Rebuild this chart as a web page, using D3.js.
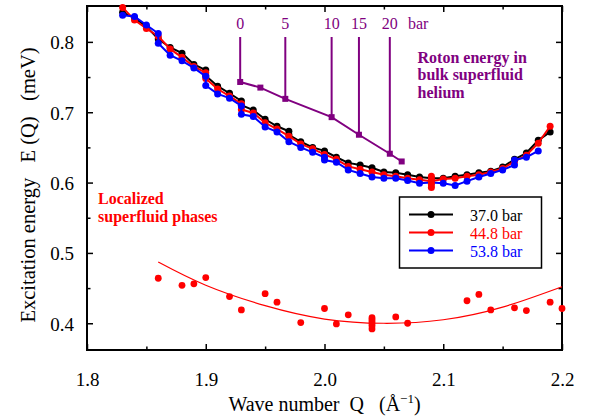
<!DOCTYPE html>
<html>
<head>
<meta charset="utf-8">
<script src="https://cdn.jsdelivr.net/npm/d3@7"></script>
<style>
  html, body { margin: 0; padding: 0; background: #fff; }
</style>
</head>
<body>
<div id="chart"></div>
<script>
// roton dispersion at three pressures: [Q (1/Å), E (meV)]
var black = [[1.83,0.842],[1.84,0.834],[1.85,0.822],[1.86,0.804],[1.87,0.792],[1.88,0.784],[1.89,0.768],
  [1.90,0.760],[1.90,0.752],[1.91,0.737],[1.92,0.727],[1.93,0.716],[1.93,0.710],[1.94,0.703],[1.95,0.690],
  [1.96,0.680],[1.97,0.673],[1.97,0.668],[1.98,0.658],[1.99,0.650],[2.00,0.645],[2.01,0.636],[2.02,0.628],
  [2.03,0.625],[2.04,0.621],[2.05,0.615],[2.06,0.614],[2.07,0.611],[2.08,0.608],[2.09,0.606],[2.10,0.606],
  [2.11,0.609],[2.12,0.611],[2.13,0.614],[2.14,0.616],[2.15,0.622],[2.16,0.633],[2.17,0.642],[2.18,0.660],[2.19,0.672]];
var red = [[1.83,0.849],[1.84,0.831],[1.85,0.819],[1.86,0.808],[1.87,0.790],[1.88,0.778],[1.89,0.765],
  [1.90,0.756],[1.90,0.748],[1.91,0.733],[1.92,0.723],[1.93,0.712],[1.93,0.704],[1.94,0.699],[1.95,0.685],
  [1.96,0.676],[1.97,0.666],[1.98,0.655],[1.99,0.648],[2.00,0.640],[2.01,0.633],[2.02,0.623],[2.03,0.619],
  [2.04,0.615],[2.05,0.611],[2.06,0.609],[2.07,0.606],[2.08,0.604],[2.09,0.602],[2.10,0.605],[2.11,0.606],
  [2.12,0.609],[2.13,0.611],[2.14,0.615],[2.15,0.620],[2.16,0.630],[2.17,0.639],[2.18,0.656],[2.19,0.680]];
var blue = [[1.83,0.838],[1.84,0.836],[1.85,0.824],[1.86,0.812],[1.86,0.798],[1.87,0.781],[1.88,0.773],
  [1.89,0.763],[1.90,0.751],[1.90,0.738],[1.91,0.726],[1.92,0.720],[1.93,0.709],[1.93,0.697],[1.94,0.694],
  [1.95,0.679],[1.96,0.672],[1.97,0.658],[1.98,0.650],[1.99,0.643],[2.00,0.636],[2.00,0.632],[2.01,0.629],
  [2.02,0.618],[2.03,0.613],[2.04,0.608],[2.05,0.606],[2.06,0.606],[2.07,0.603],[2.08,0.599],[2.09,0.600],
  [2.10,0.599],[2.11,0.596],[2.12,0.602],[2.13,0.608],[2.14,0.613],[2.15,0.618],[2.16,0.625],[2.16,0.632],
  [2.17,0.636],[2.18,0.645]];
// stack of red points at the roton minimum
var redStackQ = 2.09;
var redStackE = [0.609, 0.605, 0.601, 0.597, 0.593];

var seriesNames = ["37.0 bar", "44.8 bar", "53.8 bar"];
var seriesColors = ["#000000", "#ff0000", "#0000ff"];

// localized superfluid phases
var locQ = [1.86,1.88,1.89,1.90,1.92,1.93,1.95,1.96,1.98,2.00,2.01,2.02,2.04,2.04,2.04,2.04,2.04,2.04,2.06,2.07,2.12,2.13,2.14,2.16,2.17,2.19,2.20];
var locE = [0.464,0.454,0.456,0.465,0.438,0.419,0.442,0.430,0.401,0.421,0.399,0.412,0.408,0.405,0.402,0.399,0.396,0.392,0.409,0.400,0.432,0.441,0.419,0.422,0.418,0.430,0.421];
var fitQ = [1.86, 1.90, 1.95, 2.00, 2.05, 2.10, 2.15, 2.20];
var fitE = [0.487, 0.454, 0.425, 0.406, 0.400, 0.405, 0.423, 0.452];

// bulk roton energy vs pressure
var rotonQ = [1.929, 1.946, 1.967, 2.006, 2.029, 2.055, 2.065];
var rotonE = [0.743, 0.735, 0.719, 0.693, 0.668, 0.641, 0.630];
var rotonBar = ["0", null, "5", "10", "15", "20", null];

var xTicks = [1.8, 1.9, 2.0, 2.1, 2.2];
var yTicks = [0.4, 0.5, 0.6, 0.7, 0.8];
var xMinor = [1.85, 1.95, 2.05, 2.15];
var yMinor = [0.45, 0.55, 0.65, 0.75];

var width = 592, height = 419;
var mLeft = 87, mRight = 562, mTop = 6, mBottom = 350;
var serif = "'Liberation Serif', 'Times New Roman', serif";

var svg = d3.select("#chart").append("svg")
    .attr("width", width)
    .attr("height", height);

var x = d3.scaleLinear().domain([1.8, 2.2]).range([mLeft, mRight]);
var y = d3.scaleLinear().domain([0.362, 0.851]).range([mBottom, mTop]);

var purple = "#800080";

// axes, ticks pointing inwards
function drawAxis(axis, tx, ty) {
  var g = svg.append("g").attr("transform", "translate(" + tx + "," + ty + ")").call(axis);
  g.select(".domain").remove();
  g.selectAll(".tick line").attr("stroke", "#000").attr("stroke-width", 1.5);
  return g;
}
var gx = drawAxis(d3.axisBottom(x).tickValues(xTicks).tickSize(-6).tickFormat(d3.format(".1f")), 0, mBottom);
gx.selectAll("text").attr("y", 23).attr("font-size", 19).attr("fill", "#000");
drawAxis(d3.axisBottom(x).tickValues(xMinor).tickSize(-3.5).tickFormat(""), 0, mBottom);
drawAxis(d3.axisTop(x).tickValues(xTicks).tickSize(-6).tickFormat(""), 0, mTop);
drawAxis(d3.axisTop(x).tickValues(xMinor).tickSize(-3.5).tickFormat(""), 0, mTop);

var gy = drawAxis(d3.axisLeft(y).tickValues(yTicks).tickSize(-6).tickFormat(d3.format(".1f")), mLeft, 0);
gy.selectAll("text").attr("x", -13).attr("dy", "0.36em").attr("font-size", 19).attr("fill", "#000");
drawAxis(d3.axisLeft(y).tickValues(yMinor).tickSize(-3.5).tickFormat(""), mLeft, 0);
drawAxis(d3.axisRight(y).tickValues(yTicks).tickSize(-6).tickFormat(""), mRight, 0);
drawAxis(d3.axisRight(y).tickValues(yMinor).tickSize(-3.5).tickFormat(""), mRight, 0);

svg.append("rect")
    .attr("x", mLeft).attr("y", mTop)
    .attr("width", mRight - mLeft).attr("height", mBottom - mTop)
    .attr("fill", "none").attr("stroke", "#000").attr("stroke-width", 2);

// axis titles
var xt = svg.append("text")
    .attr("x", (mLeft + mRight) / 2).attr("y", 411)
    .attr("text-anchor", "middle").attr("font-size", 20)
    .style("white-space", "pre");
xt.append("tspan").text("Wave number  Q   (Å");
xt.append("tspan").attr("font-size", 13).attr("dy", -8).text("−1");
xt.append("tspan").attr("dy", 8).text(")");

svg.append("text")
    .attr("transform", "translate(35," + 185 + ") rotate(-90)")
    .attr("text-anchor", "middle").attr("font-size", 20.5)
    .style("white-space", "pre")
    .text("Excitation energy   E (Q)   (meV)");

// localized phases: fit line and points
var line = d3.line().x(function(d) { return x(d[0]); }).y(function(d) { return y(d[1]); });

svg.append("path")
    .datum(fitQ.map(function(q, i) { return [q, fitE[i]]; }))
    .attr("d", line.curve(d3.curveNatural))
    .attr("fill", "none").attr("stroke", "#ff0000").attr("stroke-width", 1.2);
line.curve(d3.curveLinear);

svg.selectAll("circle.loc")
  .data(locQ)
  .enter()
    .append("circle")
    .attr("class", "loc")
    .attr("cx", function(d) { return x(d); })
    .attr("cy", function(d, i) { return y(locE[i]); })
    .attr("r", 3.4)
    .attr("fill", "#ff0000");

// roton energy in bulk
svg.append("path")
    .datum(rotonQ.map(function(q, i) { return [q, rotonE[i]]; }))
    .attr("d", line)
    .attr("fill", "none").attr("stroke", purple).attr("stroke-width", 2);

rotonQ.forEach(function(q, i) {
  if (rotonBar[i] === null) return;
  svg.append("line")
      .attr("x1", x(q)).attr("x2", x(q))
      .attr("y1", 37).attr("y2", y(rotonE[i]))
      .attr("stroke", purple).attr("stroke-width", 2);
  svg.append("text")
      .attr("x", x(q)).attr("y", 28.5)
      .attr("text-anchor", "middle").attr("font-size", 16)
      .attr("fill", purple)
      .text(rotonBar[i]);
});
svg.append("text")
    .attr("x", 408).attr("y", 28.5)
    .attr("font-size", 16).attr("fill", purple)
    .text("bar");

svg.selectAll("rect.roton")
  .data(rotonQ)
  .enter()
    .append("rect")
    .attr("class", "roton")
    .attr("x", function(d) { return x(d) - 3; })
    .attr("y", function(d, i) { return y(rotonE[i]) - 3; })
    .attr("width", 6).attr("height", 6)
    .attr("fill", purple);

["Roton energy in", "bulk superfluid", "helium"].forEach(function(t, i) {
  svg.append("text")
      .attr("x", 417.5).attr("y", 62.5 + i * 17.5)
      .attr("font-size", 16).attr("font-weight", "bold")
      .attr("fill", purple)
      .text(t);
});

["Localized", "superfluid phases"].forEach(function(t, i) {
  svg.append("text")
      .attr("x", 98).attr("y", 204 + i * 17.5)
      .attr("font-size", 16).attr("font-weight", "bold")
      .attr("fill", "#ff0000")
      .text(t);
});

// dispersion curves
[black, red, blue].forEach(function(series, k) {
  var g = svg.append("g");
  g.append("path")
      .datum(series)
      .attr("d", line)
      .attr("fill", "none")
      .attr("stroke", seriesColors[k])
      .attr("stroke-width", 2);
  g.selectAll("circle")
    .data(series)
    .enter()
      .append("circle")
      .attr("cx", function(d) { return x(d[0]); })
      .attr("cy", function(d) { return y(d[1]); })
      .attr("r", 3.5)
      .attr("fill", seriesColors[k]);
});

svg.selectAll("circle.stack")
  .data(redStackE)
  .enter()
    .append("circle")
    .attr("class", "stack")
    .attr("cx", x(redStackQ))
    .attr("cy", function(d) { return y(d); })
    .attr("r", 3.5)
    .attr("fill", "#ff0000");

// legend
var legend = svg.append("g");
legend.append("rect")
    .attr("x", 399.5).attr("y", 197)
    .attr("width", 142).attr("height", 71)
    .attr("fill", "#fff").attr("stroke", "#000").attr("stroke-width", 1.5);
seriesNames.forEach(function(name, i) {
  var ly = 214.5 + i * 18;
  legend.append("line")
      .attr("x1", 409).attr("x2", 453)
      .attr("y1", ly).attr("y2", ly)
      .attr("stroke", seriesColors[i]).attr("stroke-width", 2);
  legend.append("circle")
      .attr("cx", 431).attr("cy", ly).attr("r", 3.5)
      .attr("fill", seriesColors[i]);
  legend.append("text")
      .attr("x", 470).attr("y", ly + 6.5)
      .attr("font-size", 16)
      .attr("fill", seriesColors[i])
      .text(name);
});

// serif everywhere
svg.selectAll("text").style("font-family", serif);
</script>
</body>
</html>
